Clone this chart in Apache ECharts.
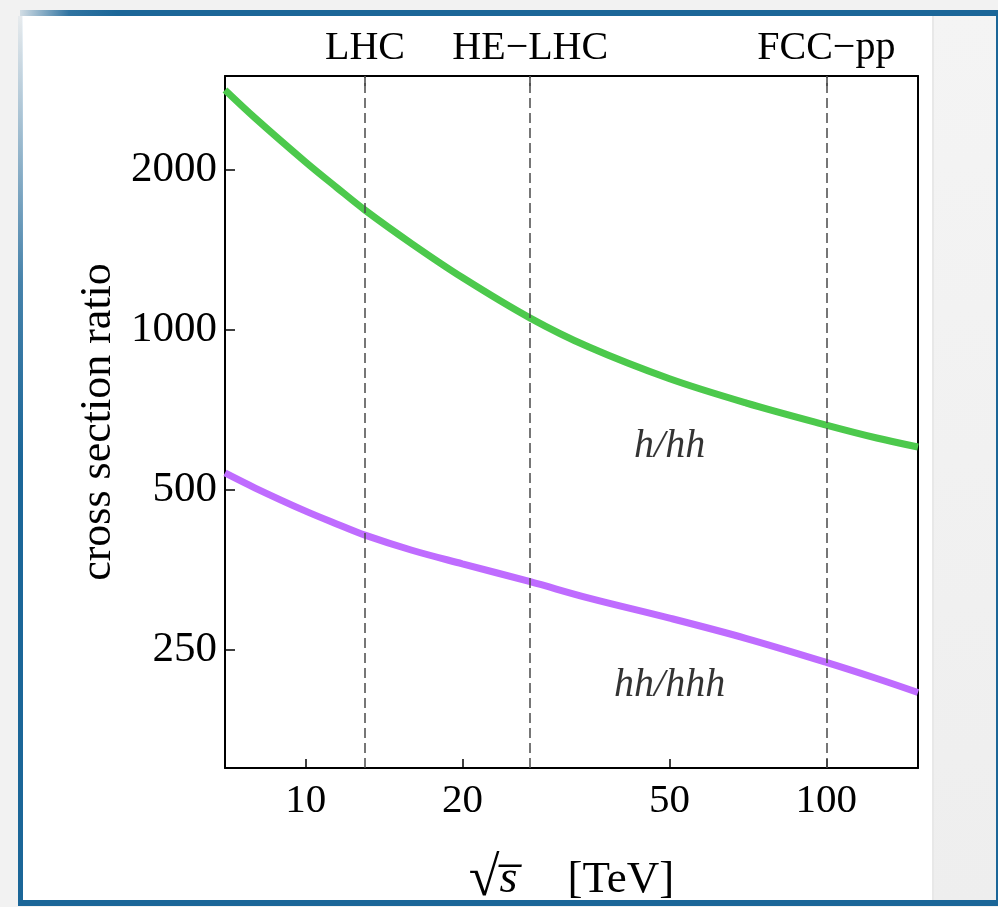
<!DOCTYPE html>
<html><head><meta charset="utf-8">
<script src="https://cdn.jsdelivr.net/npm/echarts@6/dist/echarts.min.js"></script>
<style>html,body{margin:0;padding:0;background:#f2f2f2;overflow:hidden}#c{width:998px;height:907px}</style>
</head><body><div id="c"></div>
<script>
// sqrt(s) in TeV
const energies = [7, 8, 10, 11.5, 13, 16, 20, 27, 35, 50, 70, 100, 125, 150];
// cross section ratio h/hh
const ratioHtoHH = [2824, 2500, 2067, 1848, 1679, 1451, 1254, 1052, 928, 809, 729, 662, 626, 602];
// cross section ratio hh/hhh
const ratioHHtoHHH = [538, 504, 456, 431, 411, 385, 363, 336, 313, 287, 263, 237, 221, 208];
const xTicks = [10, 20, 50, 100];
const yTicks = [250, 500, 1000, 2000];
const colliderEnergies = [13, 27, 100];
const colliderNames = ['LHC', 'HE\u2212LHC', 'FCC\u2212pp'];
const curveLabels = ['h/hh', 'hh/hhh'];
const curveLabelX = [50, 50];
const curveLabelY = [603, 214];

const FONT = '"Liberation Serif", "Times New Roman", serif';
const chart = echarts.init(document.getElementById('c'), null, {renderer: 'canvas'});
const blue = '#1b6698';

const option = {
  animation: false,
  backgroundColor: 'transparent',
  graphic: [
    {type: 'rect', z: -20, shape: {x: 0, y: 0, width: 998, height: 907}, style: {fill: '#f2f2f2'}},
    {type: 'rect', z: -19, shape: {x: 933, y: 16, width: 63, height: 884},
      style: {fill: new echarts.graphic.LinearGradient(0, 0, 1, 1, [{offset: 0, color: '#f4f4f4'}, {offset: 1, color: '#eeeeee'}])}},
    {type: 'rect', z: -18, shape: {x: 22, y: 16, width: 911, height: 885}, style: {fill: '#ffffff'}},
    {type: 'rect', z: -17, shape: {x: 932, y: 16, width: 2, height: 885}, style: {fill: '#e8e8e8'}},
    {type: 'rect', z: -16, shape: {x: 20, y: 10, width: 978, height: 6},
      style: {fill: new echarts.graphic.LinearGradient(0, 0, 1, 0, [{offset: 0, color: 'rgba(27,102,152,0.15)'}, {offset: 0.05, color: 'rgba(27,102,152,0.9)'}, {offset: 0.1, color: blue}, {offset: 1, color: blue}])}},
    {type: 'rect', z: -16, shape: {x: 18, y: 16, width: 5, height: 888},
      style: {fill: new echarts.graphic.LinearGradient(0, 0, 0, 1, [{offset: 0, color: 'rgba(27,102,152,0.05)'}, {offset: 0.3, color: 'rgba(27,102,152,0.8)'}, {offset: 0.5, color: blue}, {offset: 1, color: blue}])}},
    {type: 'rect', z: -16, shape: {x: 18, y: 900, width: 980, height: 6}, style: {fill: blue}},
    {type: 'rect', z: -16, shape: {x: 996, y: 10, width: 2, height: 896}, style: {fill: blue}}
  ],
  grid: {left: 225, right: 80, top: 76, bottom: 139, outerBoundsMode: 'none', containLabel: false},
  xAxis: [
    {
      type: 'log', logBase: 10, min: 7, max: 150, position: 'bottom',
      name: '{r|\u221A}{s|s\u0305}{g|     }{t|[TeV]}', nameLocation: 'middle', nameGap: 84,
      nameTextStyle: {rich: {
        r: {fontFamily: FONT, fontSize: 56, color: '#000'},
        s: {fontFamily: FONT, fontSize: 46, fontStyle: 'italic', color: '#000'},
        g: {fontFamily: FONT, fontSize: 40, color: '#000'},
        t: {fontFamily: FONT, fontSize: 45, color: '#000'}
      }},
      axisLine: {show: true, onZero: false, lineStyle: {color: '#000', width: 2}},
      axisTick: {show: true, inside: true, length: 9, customValues: xTicks, lineStyle: {color: '#000', width: 1.5}},
      minorTick: {show: false},
      axisLabel: {show: true, customValues: xTicks, margin: 13, fontFamily: FONT, fontSize: 41, color: '#000',
        formatter: v => String(Math.round(v))},
      splitLine: {show: false}
    },
    {
      type: 'log', logBase: 10, min: 7, max: 150, position: 'top',
      axisLine: {show: true, onZero: false, lineStyle: {color: '#000', width: 2}},
      axisTick: {show: true, inside: true, length: 10, customValues: colliderEnergies, lineStyle: {color: '#444', width: 1.5}},
      minorTick: {show: false},
      axisLabel: {show: true, customValues: colliderEnergies, margin: 8, fontFamily: FONT, fontSize: 40, color: '#000',
        formatter: v => { const i = colliderEnergies.findIndex(e => Math.abs(e - v) < 0.01 * e); return i >= 0 ? colliderNames[i] : ''; }},
      splitLine: {show: false}
    }
  ],
  yAxis: [
    {
      type: 'log', logBase: 10, min: 150, max: 3000, position: 'left',
      name: 'cross section ratio', nameLocation: 'middle', nameGap: 102, nameRotate: 90,
      nameTextStyle: {fontFamily: FONT, fontSize: 44, color: '#000'},
      axisLine: {show: true, onZero: false, lineStyle: {color: '#000', width: 2}},
      axisTick: {show: true, inside: true, length: 10, customValues: yTicks, lineStyle: {color: '#000', width: 1.5}},
      minorTick: {show: false},
      axisLabel: {show: true, customValues: yTicks, margin: 8, fontFamily: FONT, fontSize: 43, color: '#000',
        padding: [4, 0, 0, 0], formatter: v => String(Math.round(v))},
      splitLine: {show: false}
    },
    {
      type: 'log', logBase: 10, min: 150, max: 3000, position: 'right',
      axisLine: {show: true, onZero: false, lineStyle: {color: '#000', width: 2}},
      axisTick: {show: false}, axisLabel: {show: false}, splitLine: {show: false}, minorTick: {show: false}
    }
  ],
  series: [
    {
      type: 'line', xAxisIndex: 0, yAxisIndex: 0, smooth: 0.35, showSymbol: false, symbol: 'none',
      data: energies.map((e, i) => [e, ratioHtoHH[i]]),
      lineStyle: {color: '#4cc94c', width: 7}, z: 3,
      markLine: {
        silent: true, symbol: 'none', animation: false,
        lineStyle: {color: '#4a4a4a', width: 1.5, type: [10, 5]},
        label: {show: false},
        data: colliderEnergies.map(e => ({xAxis: e}))
      }
    },
    {
      type: 'line', xAxisIndex: 0, yAxisIndex: 0, smooth: 0.35, showSymbol: false, symbol: 'none',
      data: energies.map((e, i) => [e, ratioHHtoHHH[i]]),
      lineStyle: {color: '#bf6cff', width: 7}, z: 3
    },
    {
      type: 'scatter', xAxisIndex: 0, yAxisIndex: 0, symbolSize: 1, itemStyle: {color: 'transparent'}, silent: true,
      data: curveLabels.map((t, i) => ({value: [curveLabelX[i], curveLabelY[i]], name: t})),
      label: {show: true, position: 'inside', formatter: p => p.name, fontFamily: FONT, fontStyle: 'italic', fontSize: 40, color: '#000'}
    }
  ]
};
chart.setOption(option);
</script>
</body></html>
